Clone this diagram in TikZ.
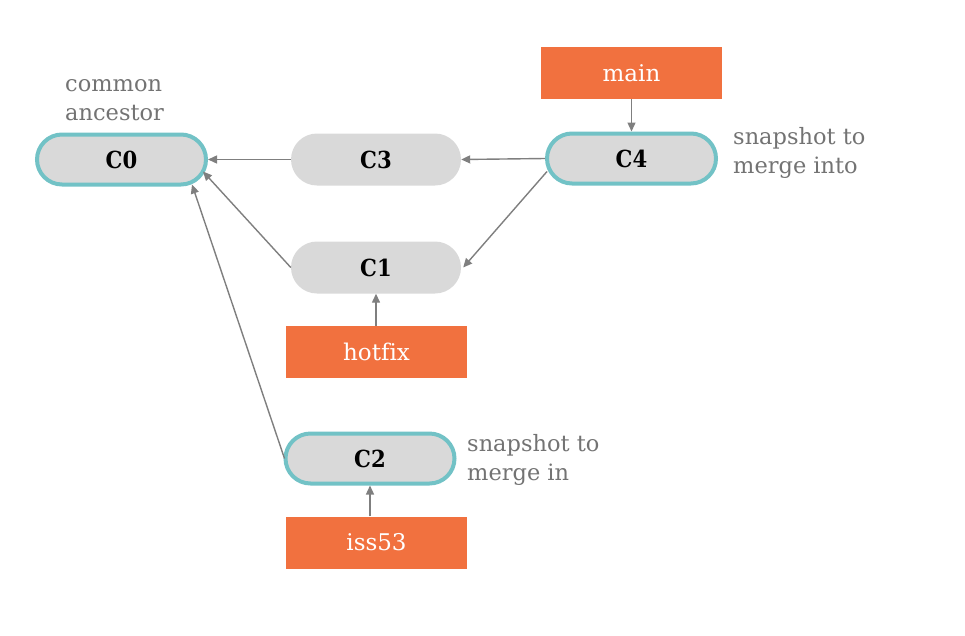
\documentclass[tikz,border=0pt]{standalone}
\usepackage{fontspec}
\setmainfont{DejaVu Serif}[Ligatures={NoCommon}]
\newfontfamily\commitfont{DejaVu Serif Condensed}[BoldFont={DejaVu Serif Condensed Bold}]
\usetikzlibrary{shapes.misc,arrows.meta,calc}
\definecolor{commitfill}{HTML}{D9D9D9}
\definecolor{tealb}{HTML}{72C2C6}
\definecolor{branchor}{HTML}{F1713F}
\definecolor{linegray}{HTML}{7F7F7F}
\definecolor{labgray}{HTML}{737373}
\begin{document}
\begin{tikzpicture}[x=1pt,y=-1pt,
  commit/.style={rounded rectangle, fill=commitfill, minimum width=170pt, minimum height=52pt, inner sep=0pt, font=\commitfont\fontsize{23.5}{26}\selectfont\bfseries},
  keycommit/.style={commit, draw=tealb, line width=4pt, minimum width=169pt, minimum height=50pt},
  branch/.style={rectangle, fill=branchor, minimum width=181pt, minimum height=52pt, inner sep=0pt, text=white, font=\fontsize{23}{27}\selectfont},
  note/.style={anchor=west, align=left, inner sep=0pt, text=labgray, font=\fontsize{22.5}{28.5}\selectfont},
  link/.style={draw=linegray, line width=1.4pt, -{Triangle[length=9pt,width=8pt]}}
]
\useasboundingbox (0,0) rectangle (965,635);
\node[keycommit] (C0) at (121.5,159.5) {C0};
\node[commit] (C3) at (376,159.5) {C3};
\node[keycommit] (C4) at (631.5,158.5) {C4};
\node[commit] (C1) at (376,267.5) {C1};
\node[keycommit] (C2) at (370,458.5) {C2};
\node[branch] (main) at (631.5,73) {main};
\node[branch] (hotfix) at (376.5,352) {hotfix};
\node[branch] (iss53) at (376.5,542.5) {iss53};
\node[note] (n0) at (65,100) {common\\ancestor};
\node[note] (n4) at (733,153) {snapshot to\\merge into};
\node[note] (n2) at (467,460) {snapshot to\\merge in};
\draw[link] (C3.west) -- (C0.east);
\draw[link] (C4.west) -- (C3.east);
\draw[link] ($(C4.west)+(2,13)$) -- ($(C1.east)+(2,0)$);
\draw[link] (C1.west) -- ($(C0.east)+(-5,12)$);
\draw[link] ($(C2.west)+(1,0)$) -- ($(C0.east)+(-16,25)$);
\draw[link] (C4.north |- main.south) -- (C4.north);
\draw[link] (C1.south |- hotfix.north) -- (C1.south);
\draw[link] (C2.south |- iss53.north) -- (C2.south);
\end{tikzpicture}
\end{document}
